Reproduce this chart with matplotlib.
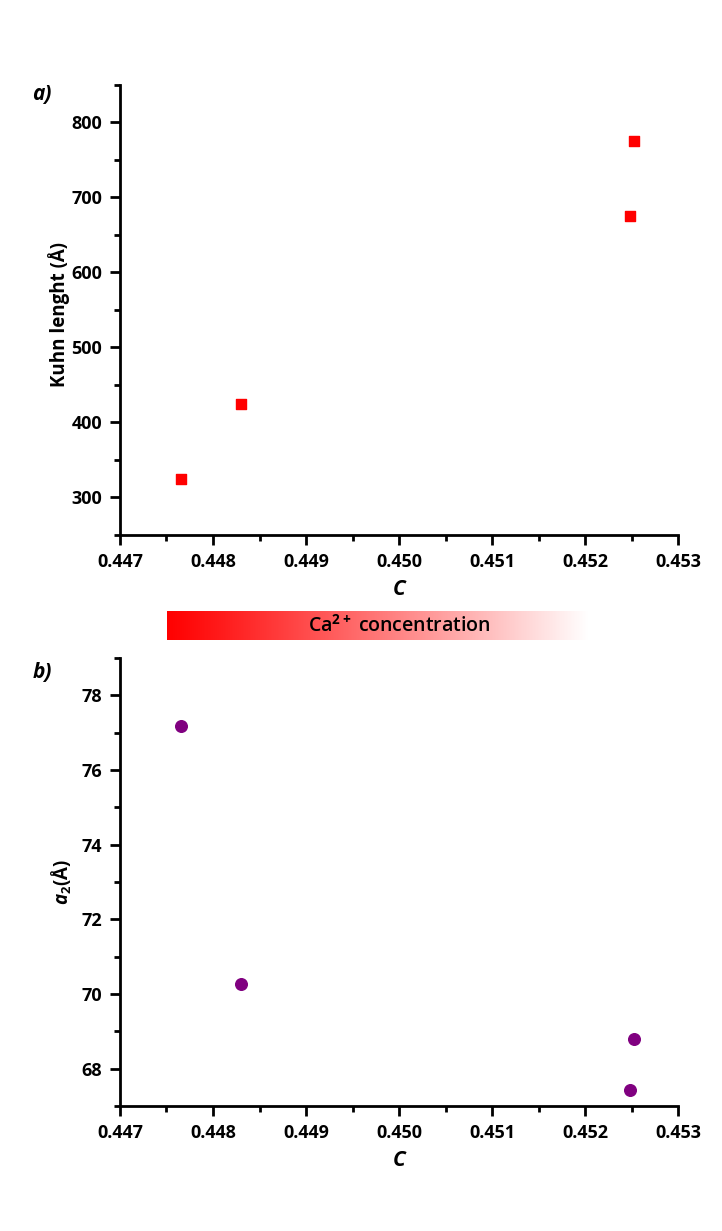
import numpy as np
import matplotlib
matplotlib.use('Agg')
import matplotlib.pyplot as plt
from matplotlib.ticker import MultipleLocator, FormatStrFormatter

plt.rcParams['font.family'] = ['Open Sans', 'DejaVu Sans']
plt.rcParams['font.weight'] = 'bold'
plt.rcParams['mathtext.fontset'] = 'custom'
plt.rcParams['mathtext.rm'] = 'Open Sans:bold'
plt.rcParams['mathtext.it'] = 'Open Sans:italic:bold'
plt.rcParams['mathtext.bf'] = 'Open Sans:bold'

# data
c_vals = [0.44766, 0.44830, 0.45248, 0.45253]
kuhn = [325, 425, 675, 775]
c_vals_b = [0.44766, 0.44830, 0.45253, 0.45248]
a2 = [77.17, 70.27, 68.80, 67.44]

fig = plt.figure(figsize=(7.22, 12.31), dpi=100)

ax1 = fig.add_axes([0.1662, 0.5654, 0.7729, 0.3656])
ax2 = fig.add_axes([0.1662, 0.1015, 0.7729, 0.3640])

ax1.scatter(c_vals, kuhn, marker='s', s=60, color='#ff0000', zorder=3)
ax2.scatter(c_vals_b, a2, marker='o', s=70, color='#800080', zorder=3)

for ax in (ax1, ax2):
    ax.set_xlim(0.447, 0.453)
    ax.spines['top'].set_visible(False)
    ax.spines['right'].set_visible(False)
    ax.spines['left'].set_linewidth(2)
    ax.spines['bottom'].set_linewidth(2)
    ax.xaxis.set_major_locator(MultipleLocator(0.001))
    ax.xaxis.set_minor_locator(MultipleLocator(0.0005))
    ax.xaxis.set_major_formatter(FormatStrFormatter('%.3f'))
    ax.tick_params(which='major', direction='out', length=7, width=2, labelsize=13, pad=6)
    ax.tick_params(which='minor', direction='out', length=4.5, width=2)
    for lab in ax.get_xticklabels() + ax.get_yticklabels():
        lab.set_fontweight('bold')
    ax.set_xlabel('C', fontsize=15, fontstyle='italic', fontweight='bold', labelpad=6)

ax1.set_ylim(250, 850)
ax1.yaxis.set_major_locator(MultipleLocator(100))
ax1.yaxis.set_minor_locator(MultipleLocator(50))
ax1.set_ylabel('Kuhn lenght (Å)', fontsize=13.5, fontweight='bold')
ax1.yaxis.set_label_coords(-0.09, 0.49)

ax2.set_ylim(67, 79)
ax2.yaxis.set_major_locator(MultipleLocator(2))
ax2.yaxis.set_minor_locator(MultipleLocator(1))
ax2.set_ylabel(r'$a_2$(Å)', fontsize=13.5, fontweight='bold', labelpad=5)

fig.text(0.058, 0.923, 'a)', fontsize=15, fontweight='bold', fontstyle='italic', ha='center', va='center')
fig.text(0.058, 0.454, 'b)', fontsize=15, fontweight='bold', fontstyle='italic', ha='center', va='center')

# gradient bar
bar_ax = fig.add_axes([167 / 722, 1 - 640 / 1231, (590 - 167) / 722, 29 / 1231])
grad = np.ones((1, 256, 4))
grad[..., 1] = 0
grad[..., 2] = 0
ramp = np.linspace(0, 1, 256)
grad[0, :, 3] = np.clip(1.0 - ramp ** 1.1, 0, 1)
bar_ax.imshow(grad, aspect='auto', extent=[0, 1, 0, 1])
bar_ax.set_axis_off()
bar_ax.text(0.55, 0.5, r'Ca$^{2+}$ concentration', fontsize=14, fontweight='semibold',
            ha='center', va='center', transform=bar_ax.transAxes)

fig.savefig('out.png', dpi=100)
